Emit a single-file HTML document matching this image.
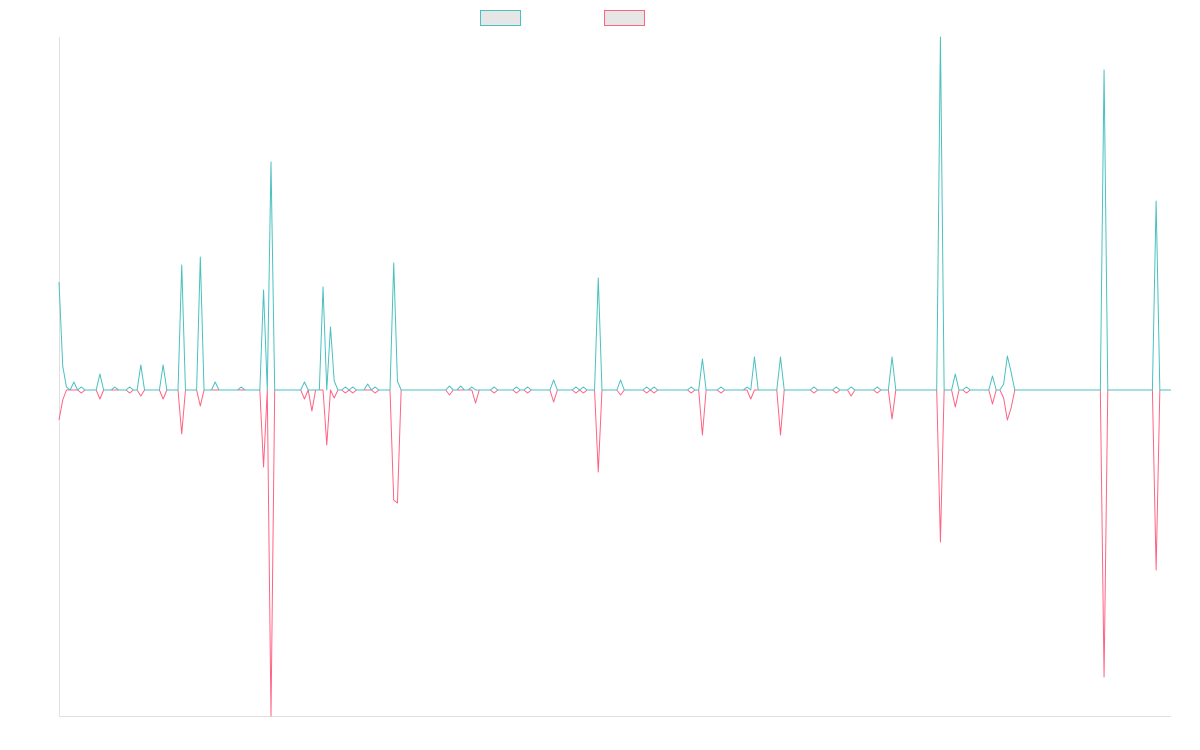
<!DOCTYPE html>
<html><head><meta charset="utf-8"><style>
html,body{margin:0;padding:0;background:#fff;width:1200px;height:750px;overflow:hidden;font-family:"Liberation Sans",sans-serif}
</style></head><body>
<svg id="chart" width="1200" height="750" xmlns="http://www.w3.org/2000/svg">
<rect x="480.5" y="10.5" width="40" height="15" fill="#e6e6e6" stroke="rgb(75,192,192)" stroke-width="1"/>
<rect x="604.5" y="10.5" width="40" height="15" fill="#e6e6e6" stroke="rgb(255,99,132)" stroke-width="1"/>
<line x1="59.5" y1="37" x2="59.5" y2="716" stroke="#e0e0e0"/>
<line x1="59" y1="716.5" x2="1171" y2="716.5" stroke="#e0e0e0"/>
<g id="series"></g>
</svg>
<script>
const pointCount = 300;
const tealIdx = [0,1,2,4,6,11,15,19,22,28,33,38,42,49,55,57,66,71,73,74,77,79,83,85,90,91,105,108,111,117,123,126,133,139,141,145,151,158,160,170,173,178,185,187,194,203,209,213,220,224,237,241,244,251,254,255,256,281,295];
const tealVal = [108,24,3,8,3,16,3,3,25,25,125,133,8,3,100,228,8,103,63,9,3,3,6,3,127,9,4,4,3,3,3,3,10,3,3,112,10,3,3,3,31,3,3,33,33,3,3,3,3,33,353,16,3,14,6,34,18,320,189];
const pinkIdx = [0,1,6,11,19,22,28,33,38,55,57,66,68,72,74,77,79,85,90,91,105,112,117,123,126,133,139,141,145,151,158,160,170,173,178,186,194,203,209,213,220,224,237,241,244,251,254,255,256,281,295];
const pinkVal = [-30,-10,-3,-9,-3,-6,-9,-44,-16,-77,-326,-9,-21,-55,-8,-3,-3,-3,-110,-113,-5,-13,-3,-3,-3,-12,-3,-3,-82,-5,-3,-3,-3,-45,-3,-9,-45,-3,-3,-6,-3,-29,-152,-17,-3,-14,-8,-30,-18,-287,-180];
const yMax = 353, yMin = -326;
const plotLeft = 59, plotRight = 1171, plotTop = 37, plotBottom = 716;
function xScale(i){return plotLeft + i*(plotRight-plotLeft)/(pointCount-1);}
function yScale(v){return plotTop + (yMax - v)*(plotBottom-plotTop)/(yMax-yMin);}
function expand(idx, vals){const a=new Array(pointCount).fill(0);idx.forEach((k,j)=>{a[k]=vals[j];});return a;}
const seriesGroup=document.getElementById('series');
function draw(idx, vals, color, name){
  const data=expand(idx,vals);
  const d=data.map((v,i)=>(i?'L':'M')+xScale(i).toFixed(2)+' '+yScale(v).toFixed(2)).join(' ');
  const p=document.createElementNS('http://www.w3.org/2000/svg','path');
  p.setAttribute('d',d);p.setAttribute('fill','none');p.setAttribute('stroke',color);p.setAttribute('stroke-width','1');
  p.setAttribute('stroke-linejoin','round');
  
  
  seriesGroup.appendChild(p);
}
draw(pinkIdx,pinkVal,'rgb(255,99,132)','series-2-line');
draw(tealIdx,tealVal,'rgb(75,192,192)','series-1-line');
</script>
</body></html>
